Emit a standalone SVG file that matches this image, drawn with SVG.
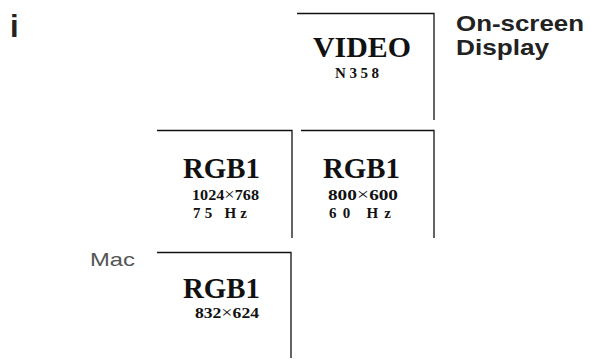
<svg xmlns="http://www.w3.org/2000/svg" width="590" height="359" viewBox="0 0 590 359">
<style>
.fr{fill:none;stroke:#111;stroke-width:1.3}
.big{font-family:"Liberation Serif",serif;font-weight:bold;font-size:30px;fill:#111}
.sm{font-family:"Liberation Serif",serif;font-weight:bold;font-size:15px;fill:#111}
.x{font-weight:normal;font-size:17px}
.sans{font-family:"Liberation Sans",Arial,sans-serif;font-weight:bold;fill:#222}
</style>
<rect width="590" height="359" fill="#fff"/>
<text class="sans" x="10" y="37" font-size="31">i</text>
<g id="title">
<text class="sans" x="456" y="31" font-size="22.5" textLength="128" lengthAdjust="spacingAndGlyphs">On-screen</text>
<text class="sans" x="456" y="55" font-size="22.5" textLength="93" lengthAdjust="spacingAndGlyphs">Display</text>
</g>
<g id="video">
<path class="fr" d="M297,13.5 H434 V120"/>
<text class="big" x="313" y="57" textLength="98" lengthAdjust="spacingAndGlyphs">VIDEO</text>
<text class="sm" x="335" y="78" font-size="13.5" textLength="44" lengthAdjust="spacing">N358</text>
</g>
<g id="rgb1-1024">
<path class="fr" d="M157,130.5 H292 V238"/>
<text class="big" x="183" y="178" textLength="77" lengthAdjust="spacingAndGlyphs">RGB1</text>
<text class="sm" x="192" y="200" textLength="67" lengthAdjust="spacingAndGlyphs">1024<tspan class="x">×</tspan>768</text>
<text class="sm" x="193" y="218" textLength="54" lengthAdjust="spacing">75 Hz</text>
</g>
<g id="rgb1-800">
<path class="fr" d="M301,130.5 H434 V238"/>
<text class="big" x="323" y="178" textLength="77" lengthAdjust="spacingAndGlyphs">RGB1</text>
<text class="sm" x="328" y="200" textLength="70" lengthAdjust="spacingAndGlyphs">800<tspan class="x">×</tspan>600</text>
<text class="sm" x="329" y="218" textLength="62" lengthAdjust="spacing">60 Hz</text>
</g>
<g id="mac">
<text x="90" y="266" font-family="Liberation Sans,Arial,sans-serif" font-size="19" fill="#555" textLength="45" lengthAdjust="spacingAndGlyphs">Mac</text>
<path class="fr" d="M157,252.5 H291 V358"/>
<text class="big" x="183" y="298" textLength="77" lengthAdjust="spacingAndGlyphs">RGB1</text>
<text class="sm" x="195" y="318" textLength="64" lengthAdjust="spacingAndGlyphs">832<tspan class="x">×</tspan>624</text>
</g>
</svg>
